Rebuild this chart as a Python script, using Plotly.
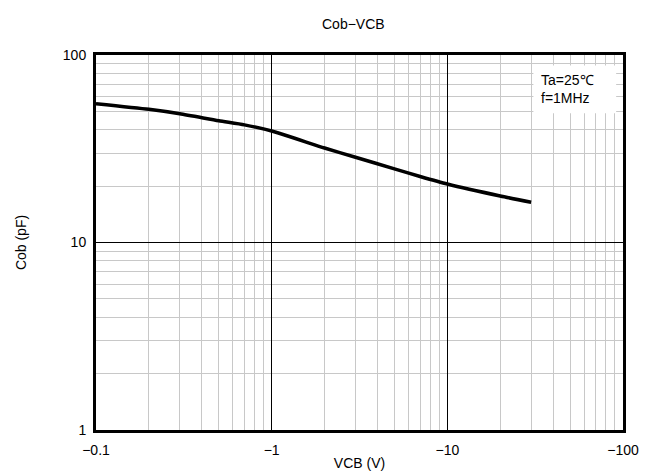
import plotly.graph_objects as go

# Data (|VCB| in V, Cob in pF)
vcb = [0.1, 0.2, 0.3, 0.5, 0.7, 1, 2, 3, 5, 7, 10, 20, 30]
cob = [55.0, 51.3, 48.6, 44.6, 42.4, 39.3, 31.9, 28.5, 24.7, 22.5, 20.5, 17.7, 16.4]

x_tickvals = [0.1, 1, 10, 100]
x_ticktext = ["\u22120.1", "\u22121", "\u221210", "\u2212100"]
y_tickvals = [1, 10, 100]
y_ticktext = ["1", "10", "100"]

x_minor = [m * d for d in (0.1, 1, 10) for m in range(2, 10)]
y_minor = [m * d for d in (1, 10) for m in range(2, 10)]

FONT = "Liberation Sans, Arial, sans-serif"
CLEAR = "rgba(0,0,0,0)"

fig = go.Figure()
fig.add_trace(go.Scatter(
    x=vcb, y=cob, mode="lines",
    line=dict(color="black", width=3.5, shape="spline", smoothing=0.6),
    showlegend=False, hoverinfo="skip",
))

fig.update_layout(
    width=647, height=474,
    margin=dict(l=85, r=32, t=47, b=39),
    paper_bgcolor="white", plot_bgcolor="white",
    font=dict(family=FONT, size=14, color="black"),
    showlegend=False,
)

fig.update_xaxes(
    type="log", range=[-1, 2],
    tickvals=x_tickvals, ticktext=x_ticktext,
    showgrid=True, gridcolor="black", gridwidth=1,
    showline=True, linecolor="black", linewidth=3, mirror=True,
    ticks="outside", ticklen=5, tickcolor=CLEAR, zeroline=False,
    minor=dict(tickvals=x_minor, showgrid=True, gridcolor="#c8c8c8", gridwidth=1, ticks=""),
    tickfont=dict(size=14),
    title=dict(text="VCB (V)", font=dict(size=14), standoff=2),
)
fig.update_yaxes(
    type="log", range=[0, 2],
    tickvals=y_tickvals, ticktext=y_ticktext,
    showgrid=True, gridcolor="black", gridwidth=1,
    showline=True, linecolor="black", linewidth=3, mirror=True,
    ticks="outside", ticklen=4, tickcolor=CLEAR, zeroline=False,
    minor=dict(tickvals=y_minor, showgrid=True, gridcolor="#c8c8c8", gridwidth=1, ticks=""),
    tickfont=dict(size=14),
    title=dict(text="Cob (pF)", font=dict(size=14), standoff=33),
)

fig.add_annotation(
    text="Cob\u2212VCB", xref="paper", yref="paper",
    x=0.489, y=1.0, yshift=31, showarrow=False,
    font=dict(size=14), xanchor="center", yanchor="middle",
)

# white box behind the condition note
fig.add_shape(
    type="rect", xref="paper", yref="paper",
    x0=0.830, x1=0.987, y0=0.845, y1=0.972,
    fillcolor="white", line=dict(width=0), layer="above",
)
fig.add_annotation(
    text="Ta=25\u2103<br>f=1MHz", xref="paper", yref="paper",
    x=0.843, y=0.958, xanchor="left", yanchor="top", align="left",
    showarrow=False, borderpad=0,
    font=dict(size=14),
)

fig.write_html("out.html")
